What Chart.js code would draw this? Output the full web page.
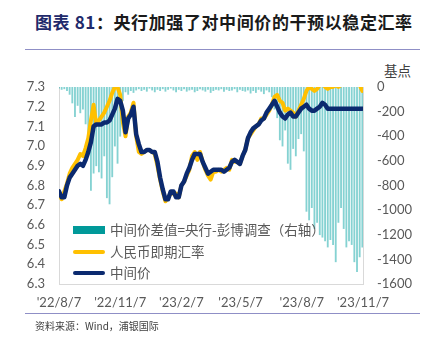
<!DOCTYPE html>
<html>
<head>
<meta charset="utf-8">
<script src="https://cdn.jsdelivr.net/npm/chart.js@4.4.0/dist/chart.umd.min.js"></script>
<style>
html, body { margin: 0; padding: 0; background: #fff; }
#wrap { position: relative; width: 434px; height: 340px; overflow: hidden; font-family: "Noto Sans CJK SC", sans-serif; }
#title { position: absolute; left: 35px; top: 9px; font-size: 17px; font-weight: bold; color: #1a1a1a; white-space: nowrap; letter-spacing: 0.6px; }
#title .no { color: #1F2A6B; }
.rule { position: absolute; left: 25px; width: 395px; height: 0; border-top: 1.5px solid #8F8FC6; }
#unit { position: absolute; left: 384px; top: 60px; font-size: 13.5px; color: #404040; }
#src { position: absolute; left: 35px; top: 318px; font-size: 10px; color: #404040; }
#stats_chart { position: absolute; left: 0; top: 0; }
</style>
</head>
<body>
<div id="wrap">
  <div id="title"><span class="no">图表 81</span>：央行加强了对中间价的干预以稳定汇率</div>
  <div class="rule" style="top:49px"></div>
  <div id="unit">基点</div>
  <canvas id="stats_chart" width="434" height="340"></canvas>
  <div class="rule" style="top:313px"></div>
  <div id="src">资料来源：Wind，浦银国际</div>
</div>
<script>
'use strict';

// one sample every 4 calendar days, starting 2022-08-07
const STEP_DAYS = 4;
const tickDays = [0, 92, 184, 273, 365, 457];
const tickLabels = ["'22/8/7", "'22/11/7", "'23/2/7", "'23/5/7", "'23/8/7", "'23/11/7"];

// 中间价 - 彭博调查, bp (right axis)
const fixingSpread = [
    -10, -20, -15, -30, -60, -130, -240, -150, -210, -180,
    -300, -520, -840, -700, -640, -690, -740, -560, -900, -950,
    -730, -480, -620, -400, -110, -40, -60, -30, -45, -25,
    -15, -30, -20, -35, -10, -25, -40, -20, -30, -15,
    -35, -20, -10, -25, -40, -20, -30, -15, -35, -25,
    -20, -40, -30, -15, -25, -35, -20, -45, -30, -20,
    -25, -15, -35, -20, -30, -25, -15, -40, -20, -30,
    -35, -25, -50, -30, -45, -20, -35, -55, -25, -40,
    -80, -180, -250, -430, -480, -350, -620, -670, -500, -560,
    -420, -380, -520, -1010, -1080, -980, -1150, -1100, -1200, -1220,
    -1250, -1300, -1240, -1280, -1420, -1100, -980, -1150, -1300, -1250,
    -1280, -1420, -1500, -1380, -1300
];

// 人民币即期汇率
const spotRate = [
    6.76, 6.73, 6.77, 6.81, 6.86, 6.89, 6.91, 6.93, 6.96, 6.95,
    6.99, 7.04, 7.13, 7.21, 7.11, 7.13, 7.15, 7.17, 7.20, 7.23,
    7.27, 7.30, 7.30, 7.26, 7.12, 7.05, 7.15, 7.17, 7.22, 7.05,
    6.97, 6.96, 6.97, 6.98, 6.98, 6.97, 6.96, 6.90, 6.83, 6.77,
    6.72, 6.74, 6.76, 6.76, 6.76, 6.74, 6.80, 6.82, 6.85, 6.88,
    6.95, 6.97, 6.93, 6.97, 6.92, 6.88, 6.85, 6.83, 6.87, 6.87,
    6.88, 6.87, 6.88, 6.89, 6.88, 6.93, 6.92, 6.92, 6.91, 6.95,
    6.98, 7.04, 7.06, 7.08, 7.10, 7.11, 7.14, 7.14, 7.16, 7.18,
    7.21, 7.25, 7.26, 7.23, 7.22, 7.18, 7.19, 7.18, 7.17, 7.15,
    7.18, 7.21, 7.24, 7.28, 7.30, 7.29, 7.28, 7.29, 7.31, 7.32,
    7.30, 7.29, 7.30, 7.30, 7.31, 7.30, 7.31, 7.31, 7.31, 7.31,
    7.32, 7.31, 7.31, 7.31, 7.28
];

// 中间价
const centralParity = [
    6.77, 6.74, 6.74, 6.80, 6.84, 6.86, 6.88, 6.90, 6.91, 6.90,
    6.93, 6.97, 7.02, 7.10, 7.11, 7.11, 7.11, 7.12, 7.12, 7.13,
    7.16, 7.19, 7.24, 7.23, 7.18, 7.07, 7.14, 7.16, 7.20, 7.06,
    7.01, 6.97, 6.97, 6.98, 6.98, 6.97, 6.97, 6.92, 6.84, 6.78,
    6.73, 6.73, 6.77, 6.77, 6.74, 6.74, 6.80, 6.82, 6.86, 6.89,
    6.93, 6.96, 6.96, 6.96, 6.92, 6.89, 6.86, 6.87, 6.88, 6.88,
    6.88, 6.88, 6.87, 6.88, 6.89, 6.92, 6.93, 6.92, 6.91, 6.95,
    6.98, 7.04, 7.07, 7.09, 7.10, 7.11, 7.13, 7.14, 7.17, 7.19,
    7.21, 7.23, 7.20, 7.17, 7.15, 7.14, 7.16, 7.17, 7.15, 7.15,
    7.17, 7.19, 7.20, 7.21, 7.19, 7.18, 7.18, 7.19, 7.20, 7.22,
    7.21, 7.19, 7.19, 7.19, 7.19, 7.19, 7.19, 7.19, 7.19, 7.19,
    7.19, 7.19, 7.19, 7.19, 7.19
];

const toPoints = (arr) => arr.map((v, i) => ({ x: i * STEP_DAYS, y: v }));

const TEAL = '#009999';
const GOLD = '#FFC000';
const NAVY = '#0B2A6F';
const tickFont = { family: 'Lato', size: 13 };

// legend sits inside the plot, lower left
const legend_box = {
    id: 'legend_box',
    afterDraw(chart) {
        const ctx = chart.ctx;
        const area = chart.chartArea;
        const x0 = area.left + 14;
        const x1 = x0 + 32;
        const rows = [area.bottom - 54, area.bottom - 32, area.bottom - 11];
        ctx.save();
        ctx.font = '13.5px "Noto Sans CJK SC"';
        ctx.textBaseline = 'middle';
        chart.data.datasets.forEach((ds, i) => {
            const y = rows[i];
            if (ds.type === 'bar') {
                ctx.fillStyle = TEAL;
                ctx.fillRect(x0, y - 4, x1 - x0, 8);
            } else {
                ctx.strokeStyle = ds.borderColor;
                ctx.lineWidth = 4;
                ctx.lineCap = 'round';
                ctx.beginPath();
                ctx.moveTo(x0 + 2, y);
                ctx.lineTo(x1 - 2, y);
                ctx.stroke();
            }
            ctx.fillStyle = '#595959';
            ctx.fillText(ds.label, x1 + 5, y);
        });
        ctx.restore();
    }
};

new Chart(document.getElementById('stats_chart'), {
    data: {
        datasets: [{
            type: 'bar',
            label: '中间价差值=央行-彭博调查（右轴）',
            data: toPoints(fixingSpread),
            yAxisID: 'y2',
            backgroundColor: 'rgba(0,160,160,0.48)',
            barThickness: 1.2,
            order: 2,
        }, {
            type: 'line',
            label: '人民币即期汇率',
            data: toPoints(spotRate),
            yAxisID: 'y',
            borderColor: GOLD,
            borderWidth: 4,
            borderCapStyle: 'round',
            borderJoinStyle: 'round',
            pointRadius: 0,
            tension: 0,
            order: 1,
        }, {
            type: 'line',
            label: '中间价',
            data: toPoints(centralParity),
            yAxisID: 'y',
            borderColor: NAVY,
            borderWidth: 4.5,
            borderCapStyle: 'round',
            borderJoinStyle: 'round',
            pointRadius: 0,
            tension: 0,
            order: 0,
        }]
    },
    options: {
        responsive: false,
        animation: false,
        devicePixelRatio: 1,
        layout: { padding: { top: 87, left: 0, right: 0, bottom: 0 } },
        plugins: { legend: { display: false }, tooltip: { enabled: false } },
        scales: {
            x: {
                type: 'linear',
                min: 0,
                max: tickDays[tickDays.length - 1],
                offset: false,
                grid: { display: false, drawTicks: false },
                border: { display: true, color: '#D9D9D9' },
                afterBuildTicks: (axis) => { axis.ticks = tickDays.map(v => ({ value: v })); },
                afterFit: (axis) => { axis.height = 56; },
                ticks: {
                    autoSkip: false,
                    maxRotation: 0,
                    padding: 11,
                    color: '#595959',
                    font: tickFont,
                    callback: (v) => tickLabels[tickDays.indexOf(v)] ?? '',
                },
            },
            y: {
                position: 'left',
                min: 6.3,
                max: 7.3,
                grid: { display: false, drawTicks: false },
                border: { display: true, color: '#D9D9D9' },
                afterFit: (axis) => { axis.width = 59; },
                ticks: {
                    stepSize: 0.1,
                    padding: 14,
                    color: '#595959',
                    font: tickFont,
                    callback: (v) => Number(v).toFixed(1),
                },
            },
            y2: {
                position: 'right',
                min: -1600,
                max: 0,
                grid: { display: false, drawTicks: false },
                border: { display: true, color: '#D9D9D9' },
                afterFit: (axis) => { axis.width = 71; },
                ticks: {
                    stepSize: 200,
                    padding: 14,
                    color: '#595959',
                    font: tickFont,
                    callback: (v) => String(v),
                },
            },
        },
    },
    plugins: [legend_box],
});
</script>
</body>
</html>
